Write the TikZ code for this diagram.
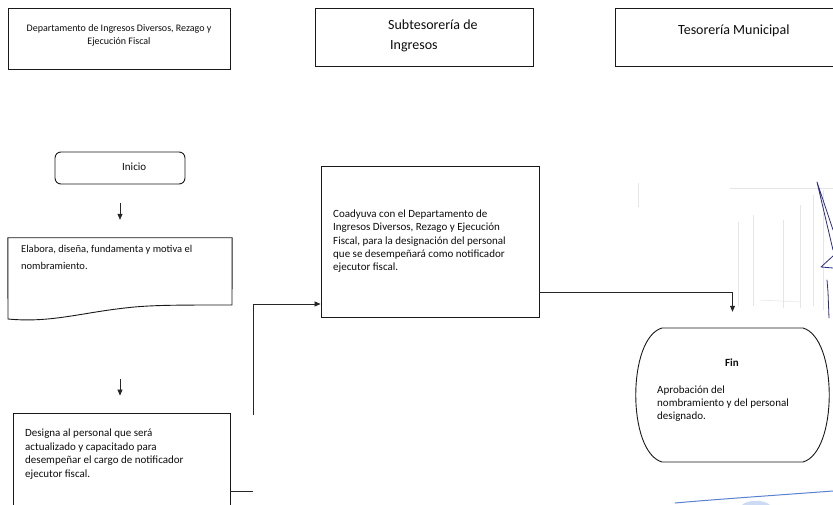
\documentclass[tikz,border=0pt]{standalone}
\usepackage{fontspec}
\setmainfont{Carlito}
\usetikzlibrary{arrows.meta,calc}
\definecolor{inkblue}{RGB}{45,45,140}
\definecolor{stampblue}{RGB}{90,130,210}
\definecolor{stampfill}{RGB}{170,195,235}
\begin{document}
\begin{tikzpicture}[x=1pt,y=-1pt,
  box/.style={draw=black!90,line width=0.9pt,inner sep=0pt},
  ghost/.style={inner sep=0pt},
  conn/.style={draw=black!85,line width=0.75pt},
  arr/.style={conn,-{Triangle[length=6pt,width=5pt]}},
  txt/.style={inner sep=0pt,anchor=north west,align=left,text=black!95,
    font=\fontsize{11}{13.4}\selectfont},
  ink/.style={draw=inkblue,line width=0.8pt,line cap=round,line join=round},
  stamp/.style={draw=stampblue,line width=1pt,line cap=round},
  faint/.style={draw=black!10,line width=0.5pt}]
\useasboundingbox[fill=white] (0,0) rectangle (833,505);

% faint marks showing through the sheet
\draw[faint] (638,183) -- (638,207);
\draw[faint] (730,188) -- (833,188);
\foreach \fx/\ya/\yb in {738/222/306,753/215/306,783/220/308,800/205/308,813/195/306,823/190/310}
  \draw[faint] (\fx,\ya) -- (\fx,\yb);
\draw[faint] (760,300) -- (800,302);

% column headers
\node[box,minimum width=222pt,minimum height=61pt] (h1) at (119,38.5) {};
\node[txt,anchor=north,align=center,font=\fontsize{10}{13}\selectfont] (h1t) at (119,24)
  {Departamento de Ingresos Diversos, Rezago y\\Ejecución Fiscal};
\node[box,minimum width=218pt,minimum height=58pt] (h2) at (424,37) {};
\node[txt,font=\fontsize{14}{20}\selectfont] (h2t) at (388,19.5) {Subtesorería de\\\hspace{2pt}Ingresos};
\node[box,minimum width=235pt,minimum height=58pt] (h3) at (732.5,37) {};
\node[txt,font=\fontsize{14}{20}\selectfont] (h3t) at (678,24.5) {Tesorería Municipal};

% start
\node[box,rounded corners=6pt,minimum width=130pt,minimum height=32pt] (inicio) at (120,168) {};
\node[txt] (iniciot) at (122,163) {Inicio};

% document step
\node[ghost,minimum width=224pt,minimum height=82pt] (elab) at (120,279) {};
\draw[box] (elab.north west) -- (elab.north east) -- (232,305)
  .. controls (175,305) and (150,305) .. (125,308)
  .. controls (80,313) and (50,323) .. (8,319) -- cycle;
\node[txt,font=\fontsize{10.5}{17}\selectfont] (elabt) at (21,245)
  {Elabora, diseña, fundamenta y motiva el\\nombramiento.};

% designation step
\node[box,minimum width=217pt,minimum height=112pt] (designa) at (121.5,469) {};
\node[txt,font=\fontsize{11}{13.5}\selectfont] (designat) at (25,429)
  {Designa al personal que será\\actualizado y capacitado para\\desempeñar el cargo de notificador\\ejecutor fiscal.};

% support step
\node[box,minimum width=218pt,minimum height=151pt] (coad) at (430,241.5) {};
\node[txt] (coadt) at (333,209.5)
  {Coadyuva con el Departamento de\\Ingresos Diversos, Rezago y Ejecución\\Fiscal, para la designación del personal\\que se desempeñará como notificador\\ejecutor fiscal.};

% end
\node[ghost,minimum width=191pt,minimum height=134pt] (fin) at (732.5,395) {};
\draw[box] (662,328) -- (803,328)
  .. controls (838,338) and (838,452) .. (803,462) -- (662,462)
  .. controls (627,452) and (627,338) .. (662,328) -- cycle;
\node[txt,anchor=north,font=\bfseries\fontsize{11}{13.4}\selectfont] (fint) at (732,358.7) {Fin};
\node[txt] (finb) at (657,385.3)
  {Aprobación del\\nombramiento y del personal\\designado.};

% connectors
\draw[arr,shorten <=19pt,shorten >=18pt] (inicio.south) -- (inicio.south |- elab.north);
\draw[arr,shorten <=59pt,shorten >=17pt] (elab.south) -- (elab.south |- designa.north);
\coordinate (dout) at (230,491);
\coordinate (dend) at (253,491);
\draw[conn] (dout) -- (dend);
\coordinate (rise) at (253,415);
\draw[arr] (rise) |- (coad.west |- 0,304);
\coordinate (cout) at (539,292);
\draw[arr,shorten >=16pt] (cout) -| (fin.north);

% signature strokes
\draw[ink] (833,230) -- (817,182) -- (833,250);
\draw[ink] (833,256) -- (821,267) -- (833,268);
\draw[ink] (827,280) -- (828,292) -- (829,318);

% stamp edge
\draw[stamp] (675,503) .. controls (720,499) and (780,495) .. (833,491);
\fill[stampfill,opacity=0.6] (742,505) .. controls (746,500) and (764,499) .. (770,505) -- cycle;
\end{tikzpicture}
\end{document}
